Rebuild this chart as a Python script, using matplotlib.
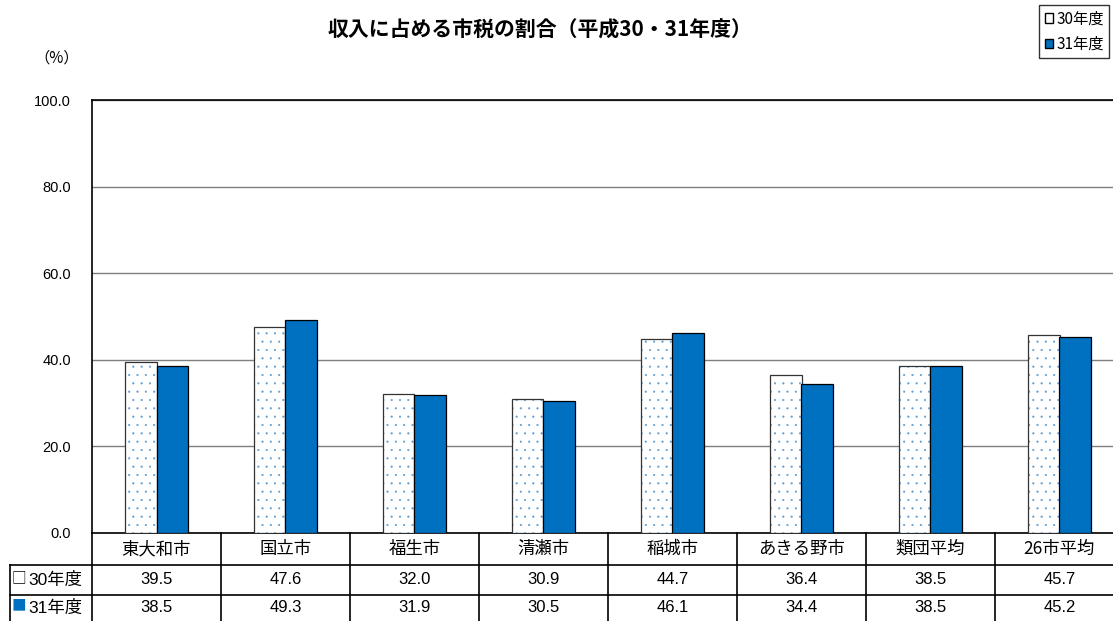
import matplotlib.pyplot as plt
from matplotlib.patches import Patch
from matplotlib.lines import Line2D
import matplotlib.transforms as mtransforms
import numpy as np

plt.rcParams['font.family'] = ['Noto Sans CJK JP', 'DejaVu Sans']
plt.rcParams['hatch.linewidth'] = 0.3

# datos
categorias = ['東大和市', '国立市', '福生市', '清瀬市', '稲城市', 'あきる野市', '類団平均', '26市平均']
valores_30 = [39.5, 47.6, 32.0, 30.9, 44.7, 36.4, 38.5, 45.7]
valores_31 = [38.5, 49.3, 31.9, 30.5, 46.1, 34.4, 38.5, 45.2]
series = ['30年度', '31年度']
titulo = '収入に占める市税の割合（平成30・31年度）'

azul = '#0070C0'
azul_puntos = '#5B9BD5'

W, H = 1113, 621
fig = plt.figure(figsize=(W / 100, H / 100), dpi=100)

# pixeles -> figura
def px(x):
    return x / W

def py(y):
    return 1 - y / H

ax_left, ax_right, ax_top, ax_bottom = 92, 1124, 100, 533
ax = fig.add_axes([px(ax_left), py(ax_bottom), px(ax_right - ax_left), (ax_bottom - ax_top) / H])

n = len(categorias)
x = np.arange(n) + 0.5
ancho = 0.245

# barras 30年度: relleno de puntos + borde
ax.bar(x - ancho / 2, valores_30, ancho, color='white', edgecolor=azul_puntos,
       hatch='..', linewidth=0, zorder=3)
ax.bar(x - ancho / 2, valores_30, ancho, fill=False, edgecolor='#333333', linewidth=0.9, zorder=4)
# barras 31年度
ax.bar(x + ancho / 2, valores_31, ancho, color=azul, edgecolor='black', linewidth=0.9, zorder=4)

ax.set_xlim(0, n)
ax.set_ylim(0, 100)
ax.set_yticks(np.arange(0, 101, 20))
ax.set_yticklabels([f'{v:.1f}' for v in np.arange(0, 101, 20)], fontsize=10.5, family='Liberation Sans')
ax.tick_params(axis='y', length=0, pad=15)
ax.set_xticks([])
ax.grid(axis='y', color='#7f7f7f', linewidth=1, zorder=0)
ax.spines['right'].set_visible(False)
for lado in ['left', 'top', 'bottom']:
    ax.spines[lado].set_color('black')
    ax.spines[lado].set_linewidth(1.2)

# tabla de datos bajo el grafico
tr = mtransforms.blended_transform_factory(ax.transData, fig.transFigure)
y_fila = [533, 565, 595, 630]
for i in range(n + 1):
    ax.plot([i, i], [py(y_fila[0]), py(y_fila[3])], color='black', lw=1.2,
            transform=tr, clip_on=False)
for yy in y_fila[1:3]:
    fig.add_artist(Line2D([px(10), 1], [py(yy), py(yy)], color='black', lw=1.2))
fig.add_artist(Line2D([px(10), px(10)], [py(565), py(630)], color='black', lw=1.2))

fuente_num = ['Liberation Sans', 'Noto Sans CJK JP']
for i in range(n):
    ax.text(x[i], py(549), categorias[i], transform=tr, ha='center', va='center', fontsize=12.5)
    ax.text(x[i], py(580), f'{valores_30[i]:.1f}', transform=tr, ha='center', va='center',
            fontsize=12, family=fuente_num)
    ax.text(x[i], py(608), f'{valores_31[i]:.1f}', transform=tr, ha='center', va='center',
            fontsize=12, family=fuente_num)

# etiquetas de fila
fig.text(px(12), py(578), '□', fontsize=10.5, ha='left', va='center', color='black')
fig.text(px(28), py(580), series[0], fontsize=12.5, ha='left', va='center', family=fuente_num)
fig.text(px(12), py(606), '■', fontsize=10.5, ha='left', va='center', color=azul)
fig.text(px(28), py(608), series[1], fontsize=12.5, ha='left', va='center', family=fuente_num)

# titulo y unidad
fig.text(px(540), py(30), titulo, fontsize=15, ha='center', va='center', weight='bold')
fig.text(px(57), py(58), '（%）', fontsize=11, ha='center', va='center')

# leyenda
handles = [Patch(facecolor='white', edgecolor='black', label=series[0]),
           Patch(facecolor=azul, edgecolor='black', label=series[1])]
leg = fig.legend(handles=handles, loc='upper right', bbox_to_anchor=(px(1109), py(5)),
                 fontsize=11, frameon=True, fancybox=False, edgecolor='black',
                 handlelength=0.55, handleheight=0.55, handletextpad=0.2,
                 borderpad=0.35, labelspacing=0.55, borderaxespad=0)
leg.get_frame().set_linewidth(1)

fig.savefig('out.png', dpi=100)
